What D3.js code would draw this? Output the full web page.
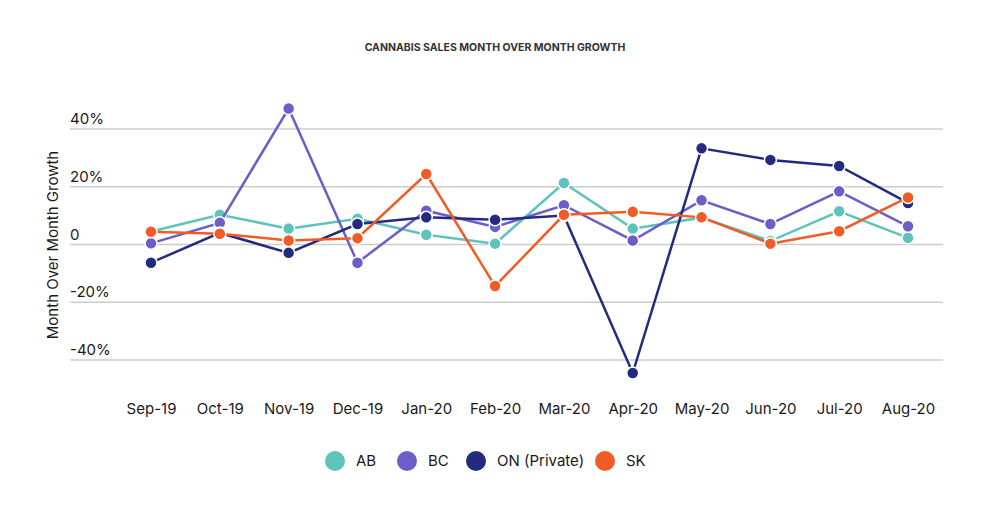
<!DOCTYPE html>
<html>
<head>
<meta charset="utf-8">
<script src="https://cdn.jsdelivr.net/npm/d3@7"></script>
<style>
  body { margin: 0; background: #fff; }
  text { font-family: Inter, "Noto Sans", sans-serif; font-weight: 400; }
</style>
</head>
<body>
<div id="chart"></div>
<script>
// data (percent)
const months = ["Sep-19", "Oct-19", "Nov-19", "Dec-19", "Jan-20", "Feb-20", "Mar-20", "Apr-20", "May-20", "Jun-20", "Jul-20", "Aug-20"];
const abValues = [4.5, 10.3, 5.5, 8.9, 3.4, 0.3, 21.3, 5.5, 9.3, 1.2, 11.5, 2.3];
const bcValues = [0.4, 7.5, 47.1, -6.3, 11.7, 6.1, 13.6, 1.4, 15.3, 7.1, 18.4, 6.3];
const onValues = [-6.3, 4.0, -2.9, 7.1, 9.4, 8.6, 10.0, -44.5, 33.3, 29.3, 27.2, 14.4];
const skValues = [4.4, 3.7, 1.4, 2.2, 24.4, -14.4, 10.3, 11.3, 9.4, 0.3, 4.6, 16.3];
const yTicks = [-40, -20, 0, 20, 40];
const seriesNames = ["AB", "BC", "ON (Private)", "SK"];

const colors = ["#5ec3bb", "#6b5ec8", "#232b7e", "#f15b25"];
const series = [abValues, bcValues, onValues, skValues].map((v, i) => ({
  name: seriesNames[i],
  color: colors[i],
  values: v.map((y, j) => ({ month: months[j], y: y }))
}));

const W = 996, H = 516;
const svg = d3.select("#chart").append("svg")
  .attr("width", W).attr("height", H);

const gridLeft = 70, gridRight = 943;

const xScale = d3.scalePoint().domain(months).range([151, 908]);
const yScale = d3.scaleLinear().domain([-40, 40]).range([360, 129]);

// title
svg.append("text")
  .attr("x", 495).attr("y", 51)
  .attr("text-anchor", "middle")
  .style("font-size", "10.5px")
  .style("font-weight", "700")
  .style("fill", "#333")
  .text("CANNABIS SALES MONTH OVER MONTH GROWTH");

// gridlines + y tick labels
const grid = svg.append("g");
grid.selectAll("line")
  .data(yTicks).enter().append("line")
  .attr("x1", gridLeft).attr("x2", gridRight)
  .attr("y1", d => yScale(d)).attr("y2", d => yScale(d))
  .attr("stroke", "#cccccc")
  .attr("stroke-width", 1.5);
grid.selectAll("text")
  .data(yTicks).enter().append("text")
  .attr("x", gridLeft).attr("y", d => yScale(d) - 5)
  .style("font-size", "15px")
  .style("fill", "#1a1a1a")
  .text(d => d === 0 ? "0" : d + "%");

// y axis label
svg.append("text")
  .attr("transform", "translate(58,245) rotate(-90)")
  .attr("text-anchor", "middle")
  .style("font-size", "15px")
  .style("fill", "#1a1a1a")
  .text("Month Over Month Growth");

// x axis labels
const xAxis = svg.append("g")
  .attr("transform", "translate(0,400)")
  .call(d3.axisBottom(xScale).tickSize(0).tickPadding(0));
xAxis.select(".domain").remove();
xAxis.selectAll("text")
  .attr("dy", "0.9em")
  .style("font-size", "15px")
  .style("font-weight", "400")
  .style("font-family", "Inter, 'Noto Sans', sans-serif")
  .style("fill", "#1a1a1a");

// lines and points
const line = d3.line()
  .x(d => xScale(d.month))
  .y(d => yScale(d.y));

series.forEach(s => {
  const g = svg.append("g");
  g.append("path")
    .datum(s.values)
    .attr("d", line)
    .attr("fill", "none")
    .attr("stroke", s.color)
    .attr("stroke-width", 2.5);
  g.selectAll("circle")
    .data(s.values).enter().append("circle")
    .attr("cx", d => xScale(d.month))
    .attr("cy", d => yScale(d.y))
    .attr("r", 6)
    .attr("fill", s.color)
    .attr("stroke", "#fff")
    .attr("stroke-width", 1.5);
});

// legend
const legendX = [335, 407, 476, 605];
const legend = svg.append("g");
series.forEach((s, i) => {
  legend.append("circle")
    .attr("cx", legendX[i]).attr("cy", 461)
    .attr("r", 10)
    .attr("fill", s.color);
  legend.append("text")
    .attr("x", legendX[i] + 21).attr("y", 466)
    .style("font-size", "15px")
    .style("fill", "#1a1a1a")
    .text(s.name);
});
</script>
</body>
</html>
